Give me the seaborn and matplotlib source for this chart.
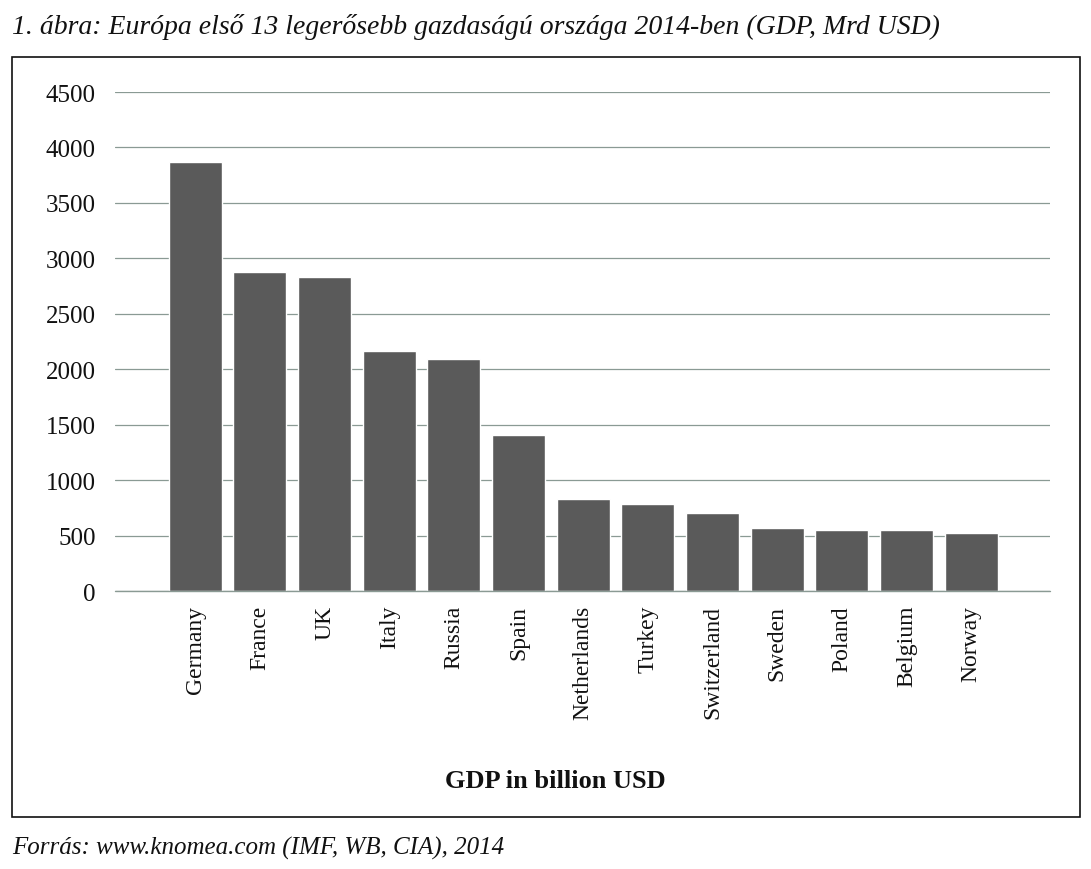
import matplotlib
matplotlib.use("Agg")
import matplotlib.pyplot as plt
import matplotlib.patches as patches
import seaborn as sns
import pandas as pd

# GDP 2014, billion USD
countries = ['Germany', 'France', 'UK', 'Italy', 'Russia', 'Spain', 'Netherlands',
             'Turkey', 'Switzerland', 'Sweden', 'Poland', 'Belgium', 'Norway']
gdp = [3870, 2880, 2830, 2160, 2095, 1405, 830, 785, 705, 570, 550, 550, 525]
yticks = [0, 500, 1000, 1500, 2000, 2500, 3000, 3500, 4000, 4500]

df = pd.DataFrame({'country': countries, 'gdp': gdp})

sns.set_style('white')
plt.rcParams['font.family'] = ['Liberation Serif', 'DejaVu Serif']
plt.rcParams['text.color'] = '#111111'
plt.rcParams['xtick.color'] = '#111111'
plt.rcParams['ytick.color'] = '#111111'

fig = plt.figure(figsize=(10.91, 8.70), dpi=100)
ax = fig.add_axes([0.1054, 0.3195, 0.857, 0.5736])

sns.barplot(data=df, x='country', y='gdp', color='#5a5a5a', saturation=1,
            width=0.82, ax=ax, zorder=3)

ax.set_ylim(0, 4500)
ax.set_xlim(-1.24, 13.22)
ax.set_yticks(yticks)
ax.set_yticklabels([str(t) for t in yticks], fontsize=18)
ax.set_xticks(range(len(countries)))
ax.set_xticklabels(countries, rotation=90, fontsize=17, va='top')
ax.tick_params(axis='y', length=0, pad=14)
ax.tick_params(axis='x', length=0, pad=10)
ax.yaxis.grid(True, color='#8a9a94', linewidth=0.9, zorder=0)
ax.axhline(0, color='#8a9a94', linewidth=1.0, clip_on=False, zorder=4)
ax.set_axisbelow(True)
for s in ax.spines.values():
    s.set_visible(False)
ax.set_xlabel('')
ax.set_ylabel('')

# frame round the chart area
fig.patches.append(patches.Rectangle((12 / 1091, 1 - 818 / 870), 1068 / 1091, 760 / 870,
                                     transform=fig.transFigure, fill=False,
                                     edgecolor='#111111', linewidth=1.2))

fig.text(0.509, 1 - 782 / 870, 'GDP in billion USD', ha='center', va='center',
         fontsize=19, fontweight='bold')
fig.text(12 / 1091, 1 - 27 / 870, '1. ábra: Európa első 13 legerősebb gazdaságú országa 2014-ben (GDP, Mrd USD)',
         ha='left', va='center', fontsize=20, style='italic')
fig.text(12 / 1091, 1 - 848 / 870, 'Forrás: www.knomea.com (IMF, WB, CIA), 2014',
         ha='left', va='center', fontsize=18, style='italic')

fig.savefig('out.png', dpi=100)
